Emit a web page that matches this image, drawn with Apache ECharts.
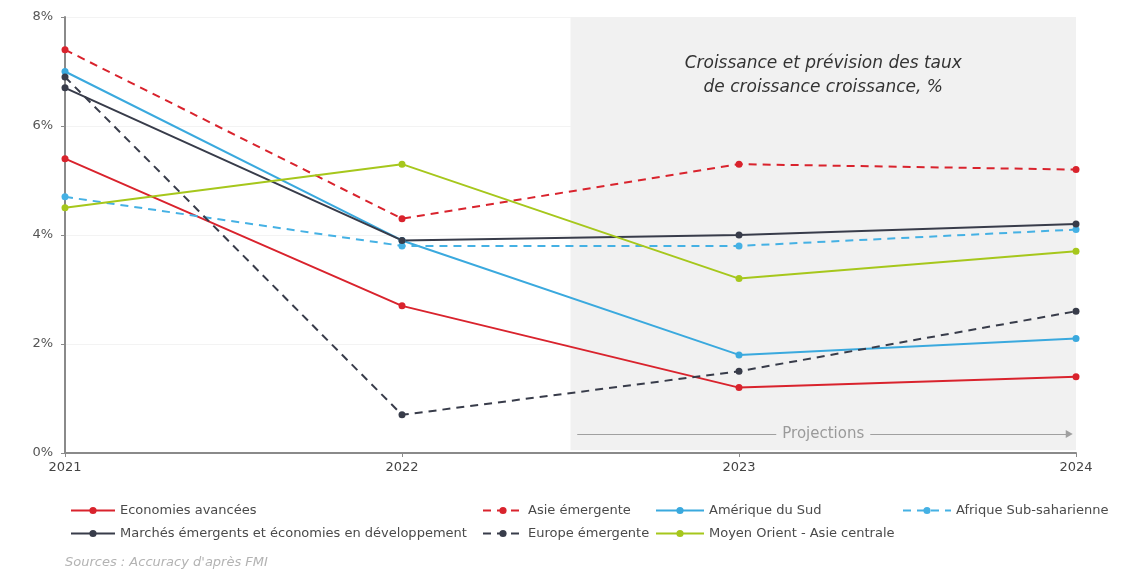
<!DOCTYPE html>
<html><head><meta charset="utf-8">
<script src="https://cdn.jsdelivr.net/npm/echarts@6/dist/echarts.min.js"></script>
<style>html,body{margin:0;padding:0;background:#fff}#c{width:1139px;height:572px}</style>
</head><body><div id="c"></div>
<script>
const years = [2021, 2022, 2023, 2024];
const ecoAvancees = [5.4, 2.7, 1.2, 1.4];
const asieEmergente = [7.4, 4.3, 5.3, 5.2];
const ameriqueSud = [7.0, 3.9, 1.8, 2.1];
const afriqueSub = [4.7, 3.8, 3.8, 4.1];
const marchesEmergents = [6.7, 3.9, 4.0, 4.2];
const europeEmergente = [6.9, 0.7, 1.5, 2.6];
const moyenOrient = [4.5, 5.3, 3.2, 3.7];
const yTicks = [0, 2, 4, 6, 8];
const projStart = 2022.5;
const chartTitle = 'Croissance et prévision des taux\nde croissance croissance, %';
const sourceText = "Sources : Accuracy d'après FMI";

const FONT = 'DejaVu Sans, sans-serif';
const RED = '#d9232d', BLUE = '#3aa9de', LBLUE = '#45b1e4', DARK = '#383c4a', GREEN = '#a6c71c';
const DASH = [8, 6];

function mk(name, vals, color, dashed, extra) {
  return Object.assign({
    name, type: 'line',
    data: years.map((y, i) => [y, vals[i]]),
    symbol: 'circle', symbolSize: 7,
    itemStyle: { color },
    lineStyle: { color, width: 2, type: dashed ? DASH : 'solid' },
    emphasis: { disabled: true }, animation: false
  }, extra || {});
}

const legendText = { fontFamily: FONT, fontSize: 13, color: '#4a4a4a' };
function lg(left, itemWidth, data) {
  return { left, top: 499, orient: 'vertical', itemWidth, itemHeight: 9, itemGap: 10,
    textStyle: legendText, data };
}

const chart = echarts.init(document.getElementById('c'));
chart.setOption({
  animation: false,
  title: [{
    text: sourceText, left: 60, top: 551,
    textStyle: { fontFamily: FONT, fontSize: 13, fontStyle: 'italic', fontWeight: 'normal', color: '#b3b3b3' }
  }],
  grid: { left: 65, right: 63, top: 17, bottom: 119 },
  xAxis: {
    type: 'value', min: 2021, max: 2024, interval: 1,
    axisLine: { show: true, lineStyle: { color: '#8a8a8a', width: 2 } },
    axisTick: { show: true, length: 4, lineStyle: { color: '#8a8a8a' } },
    axisLabel: { formatter: v => String(v), color: '#444', fontFamily: FONT, fontSize: 13, margin: 8 },
    splitLine: { show: false }
  },
  yAxis: {
    type: 'value', min: yTicks[0], max: yTicks[yTicks.length - 1], interval: 2,
    axisLine: { show: true, lineStyle: { color: '#8a8a8a', width: 2 } },
    axisTick: { show: true, length: 4, lineStyle: { color: '#8a8a8a' } },
    axisLabel: { formatter: '{value}%', color: '#555', fontFamily: FONT, fontSize: 13, margin: 12 },
    splitLine: { show: true, lineStyle: { color: '#f3f3f3', width: 1 } }
  },
  legend: [
    lg(65, 44, ['Economies avancées', 'Marchés émergents et économies en développement']),
    lg(477, 40, ['Asie émergente', 'Europe émergente']),
    lg(650, 48, ['Amérique du Sud', 'Moyen Orient - Asie centrale']),
    lg(897, 48, ['Afrique Sub-saharienne'])
  ],
  series: [
    mk('Economies avancées', ecoAvancees, RED, false, {
      markArea: {
        silent: true,
        itemStyle: { color: '#f1f1f1' },
        label: {
          show: true, position: 'insideTop', distance: 35,
          formatter: chartTitle, color: '#333', fontFamily: FONT, fontSize: 17,
          fontStyle: 'italic', lineHeight: 24
        },
        data: [[{ xAxis: projStart, yAxis: yTicks[yTicks.length - 1] }, { xAxis: 2024, yAxis: 0.05 }]]
      },
      markLine: {
        silent: true, symbol: ['none', 'triangle'], symbolSize: [8, 7],
        lineStyle: { color: '#a0a0a0', width: 1.2, type: 'solid' },
        label: {
          show: true, position: 'insideMiddle', formatter: 'Projections',
          color: '#9a9a9a', fontFamily: FONT, fontSize: 15, backgroundColor: '#f1f1f1', padding: [0, 6]
        },
        data: [[{ coord: [2022.52, 0.35] }, { coord: [2023.98, 0.35] }]]
      },
      z: 3
    }),
    mk('Asie émergente', asieEmergente, RED, true),
    mk('Amérique du Sud', ameriqueSud, BLUE, false),
    mk('Afrique Sub-saharienne', afriqueSub, LBLUE, true),
    mk('Marchés émergents et économies en développement', marchesEmergents, DARK, false),
    mk('Europe émergente', europeEmergente, DARK, true),
    mk('Moyen Orient - Asie centrale', moyenOrient, GREEN, false)
  ]
});
</script></body></html>
